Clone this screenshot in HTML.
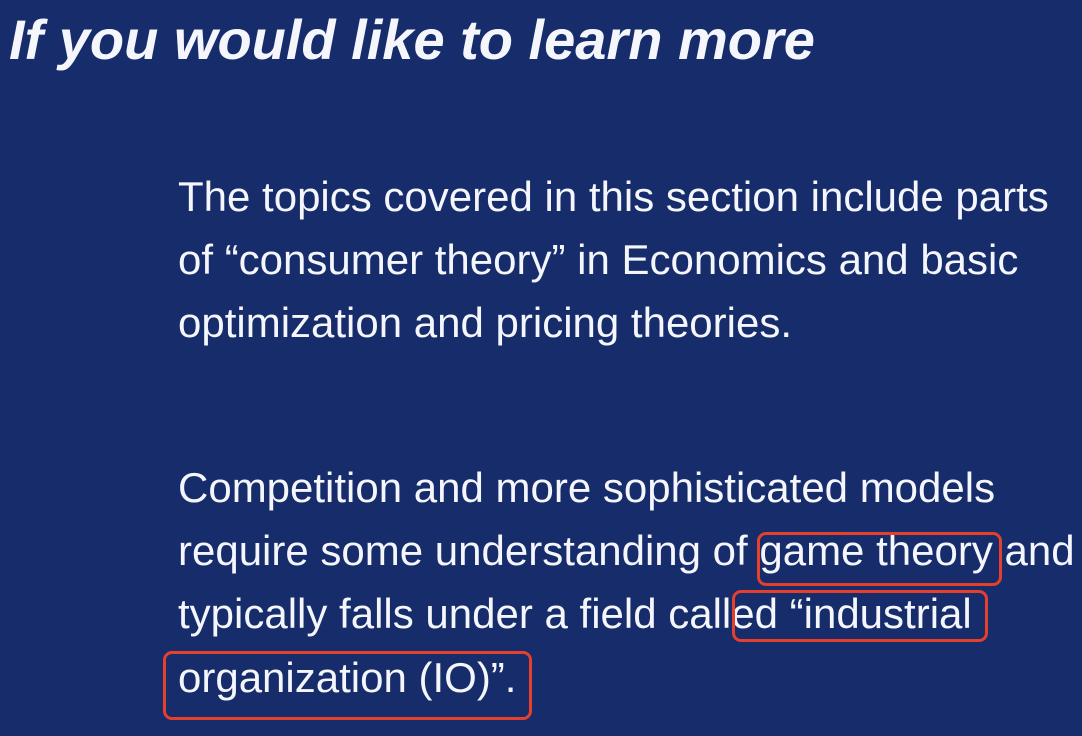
<!DOCTYPE html>
<html><head><meta charset="utf-8"><style>
body{margin:0;width:1082px;height:736px;background:#162c6b;overflow:hidden;position:relative;font-family:"Liberation Sans",Arial,sans-serif;color:#f4f6fb}
.t{position:absolute;white-space:nowrap;font-size:42px;left:178px;line-height:44px}
h1{position:absolute;left:9px;top:10px;margin:0;font-size:56px;font-weight:bold;font-style:italic;line-height:60px;white-space:nowrap}
.box{position:absolute;border:3.5px solid #e5402c;border-radius:9px;box-sizing:border-box}
</style></head><body>
<h1>If you would like to learn more</h1>
<div class="t" style="top:175px">The topics covered in this section include parts</div>
<div class="t" style="top:238px">of “consumer theory” in Economics and basic</div>
<div class="t" style="top:301px">optimization and pricing theories.</div>
<div class="t" style="top:466px">Competition and more sophisticated models</div>
<div class="t" style="top:529px">require some understanding of game theory and</div>
<div class="t" style="top:592px">typically falls under a field called “industrial</div>
<div class="t" style="top:656px">organization (IO)”.</div>
<div class="box" style="left:757px;top:532px;width:245px;height:54px"></div>
<div class="box" style="left:732px;top:590px;width:256px;height:52px"></div>
<div class="box" style="left:163px;top:651px;width:369px;height:69px"></div>
</body></html>
